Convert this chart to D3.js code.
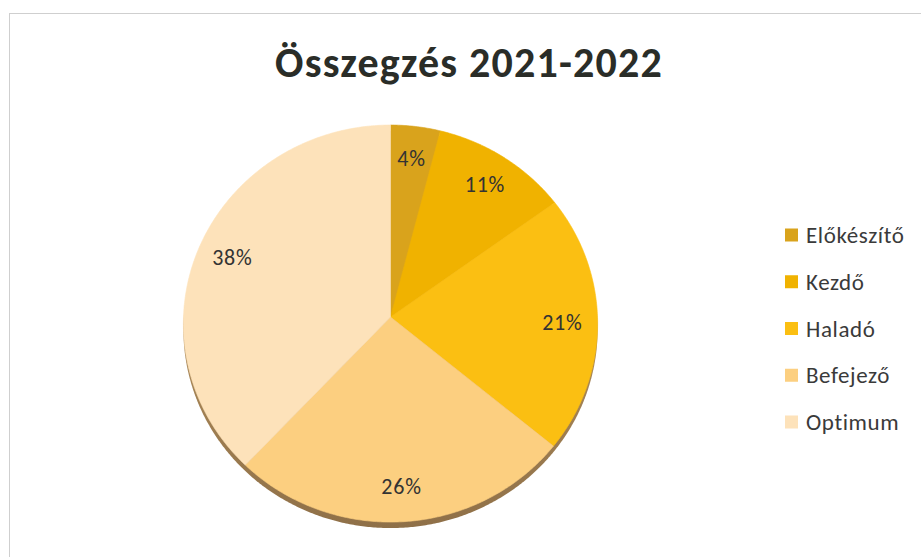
<!DOCTYPE html>
<html>
<head>
<meta charset="utf-8">
<script src="https://cdn.jsdelivr.net/npm/d3@7"></script>
<style>
  html, body { margin: 0; padding: 0; background: #fff; }
  svg { display: block; }
</style>
</head>
<body>
<svg id="chart" width="921" height="557"></svg>
<script>
const title = "Összegzés 2021-2022";
const categories = ["Előkészítő", "Kezdő", "Haladó", "Befejező", "Optimum"];
const values = [4, 11, 21, 26, 38];
const labels = ["4%", "11%", "21%", "26%", "38%"];
const colors = ["#d9a31c", "#f0b200", "#fbbf12", "#fccf80", "#fde2ba"];

const svg = d3.select("#chart");
const W = 921, H = 557;
const font = "Carlito, Calibri, Lato, 'Open Sans', sans-serif";

// chart border
svg.append("rect").attr("x", 9.5).attr("y", 13.5).attr("width", W).attr("height", H)
  .attr("fill", "#fff").attr("stroke", "#cfcfcf").attr("stroke-width", 1);

// title
svg.append("text").attr("x", 469).attr("y", 77).attr("text-anchor", "middle")
  .attr("font-family", font).attr("font-weight", "bold").attr("font-size", 42)
  .attr("letter-spacing", 1.2)
  .attr("fill", "#2a2d28").text(title);

// perspective-projected pie
const cx = 390.5, cy = 317, Rx = 207, Ry = 198.3, k = 0.033;
function proj(theta, r) {
  const x = Math.sin(theta) * r, y = -Math.cos(theta) * r;
  const d = 1 - k * y;
  return [cx + Rx * x / d, cy + Ry * y / d];
}
const pie = d3.pie().sort(null).value(d => d)(values);
const line = d3.line().curve(d3.curveLinear);
function slicePts(a0, a1) {
  const pts = [proj(0, 0)];
  const n = Math.max(8, Math.ceil((a1 - a0) / 0.01));
  for (let i = 0; i <= n; i++) pts.push(proj(a0 + (a1 - a0) * i / n, 1));
  return pts;
}

// side (depth) of the disk
const defs = svg.append("defs");
const g = defs.append("linearGradient").attr("id", "side").attr("x1", 0).attr("y1", 0).attr("x2", 0).attr("y2", 1);
g.append("stop").attr("offset", "0%").attr("stop-color", "#c9a46a");
g.append("stop").attr("offset", "100%").attr("stop-color", "#8f7048");
const rim = [];
for (let i = 0; i <= 720; i++) rim.push(proj(2 * Math.PI * i / 720, 1));
svg.append("path").attr("d", line(rim) + "Z").attr("transform", "translate(0,6)")
  .attr("fill", "url(#side)");

svg.append("g").selectAll("path").data(pie).join("path")
  .attr("d", d => line(slicePts(d.startAngle, d.endAngle)) + "Z")
  .attr("fill", (d, i) => colors[i])
  .attr("stroke", (d, i) => colors[i]).attr("stroke-width", 0.6);

// data labels
const labelR = 0.83;
svg.append("g").selectAll("text").data(pie).join("text")
  .attr("x", d => proj((d.startAngle + d.endAngle) / 2, labelR)[0])
  .attr("y", d => proj((d.startAngle + d.endAngle) / 2, labelR)[1])
  .attr("dy", "0.35em").attr("text-anchor", "middle")
  .attr("font-family", font).attr("font-size", 22).attr("letter-spacing", 0.8)
  .attr("fill", "#333").text((d, i) => labels[i]);

// legend
const legendY = d3.scalePoint().domain(categories).range([235, 422]);
const lg = svg.append("g").selectAll("g").data(categories).join("g")
  .attr("transform", d => `translate(785,${legendY(d)})`);
lg.append("rect").attr("x", 0).attr("y", -6.5).attr("width", 13).attr("height", 13)
  .attr("fill", (d, i) => colors[i]);
lg.append("text").attr("x", 21).attr("y", 0).attr("dy", "0.35em")
  .attr("font-family", font).attr("font-size", 23).attr("letter-spacing", 0.6)
  .attr("fill", "#3a3a3a").text(d => d);
</script>
</body>
</html>
